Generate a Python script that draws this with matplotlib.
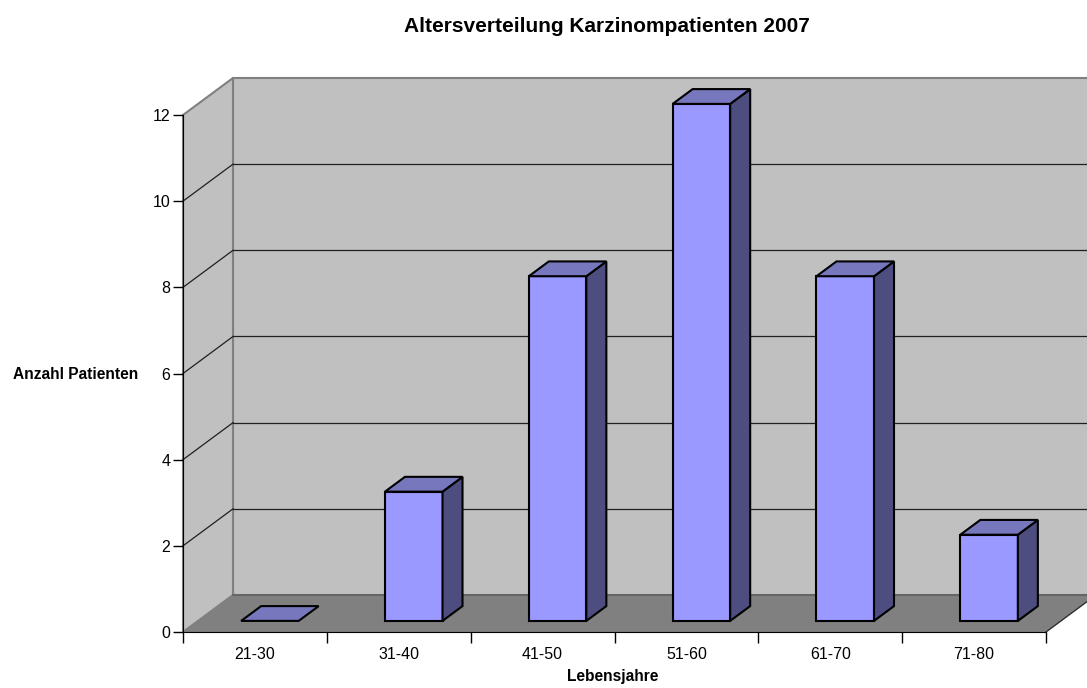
import matplotlib
matplotlib.use("Agg")
import matplotlib.pyplot as plt
from matplotlib.patches import Polygon

plt.rcParams['font.family'] = ['Liberation Sans', 'DejaVu Sans']

# age groups and patient counts
age_groups = ['21-30', '31-40', '41-50', '51-60', '61-70', '71-80']
patients = [0, 3, 8, 12, 8, 2]
y_ticks = [0, 2, 4, 6, 8, 10, 12]

W, H = 1087, 688
fig = plt.figure(figsize=(W / 100, H / 100), dpi=100)
ax = fig.add_axes([183 / W, (H - 632) / H, (1046 - 183) / W, (632 - 115) / H])

n = len(age_groups)
ymax = 12
ax.set_xlim(0, n)
ax.set_ylim(0, ymax)

# oblique depth offset of the 3d box, in data units
DX, DY = 0.3476, 0.859
wall = '#c0c0c0'
floor = '#808080'
border = '#808080'


def poly(pts, fc, ec, lw=1.0, z=1):
    ax.add_patch(Polygon(pts, closed=True, facecolor=fc, edgecolor=ec,
                         linewidth=lw, zorder=z, clip_on=False))


# back wall, side wall and floor
poly([(DX, DY), (n + DX, DY), (n + DX, ymax + DY), (DX, ymax + DY)], wall, border, 1.5, 1)
poly([(0, 0), (DX, DY), (DX, ymax + DY), (0, ymax)], wall, border, 1.5, 1)

# gridlines on back wall and side wall
for v in y_ticks[1:-1]:
    ax.plot([DX, n + DX], [v + DY, v + DY], color='#202020', lw=0.9, zorder=2, clip_on=False)
    ax.plot([0, DX], [v, v + DY], color='#202020', lw=0.9, zorder=2, clip_on=False)

poly([(0, 0), (n, 0), (n + DX, DY), (DX, DY)], floor, 'none', 0, 3)
ax.plot([DX, n + DX], [DY, DY], color='#606060', lw=1.2, zorder=3, clip_on=False)
ax.plot([n, n + DX], [0, DY], color='#303030', lw=1.0, zorder=3, clip_on=False)

# bars as boxes
f0, f1 = 0.3, 0.7
bw = 0.4
front_c, top_c, side_c = '#9999ff', '#7777bd', '#4d4d80'
for i, v in enumerate(patients):
    x0 = i + 0.3 + f0 * DX
    x1 = x0 + bw
    yb = f0 * DY
    ddx, ddy = (f1 - f0) * DX, (f1 - f0) * DY
    if v > 0:
        poly([(x0, yb), (x1, yb), (x1, v + yb), (x0, v + yb)], front_c, 'black', 1.5, 5)
        poly([(x1, yb), (x1 + ddx, yb + ddy), (x1 + ddx, v + yb + ddy), (x1, v + yb)],
             side_c, 'black', 1.5, 5)
    poly([(x0, v + yb), (x1, v + yb), (x1 + ddx, v + yb + ddy), (x0 + ddx, v + yb + ddy)],
         top_c, 'black', 1.5, 5)

# axes styling
for s in ['top', 'right']:
    ax.spines[s].set_visible(False)
ax.spines['left'].set_zorder(6)
ax.spines['bottom'].set_zorder(6)
ax.patch.set_visible(False)

ax.set_yticks(y_ticks)
ax.tick_params(axis='y', direction='out', length=7, width=1, labelsize=11.5, pad=2)
ax.set_xticks(range(n + 1))
ax.set_xticklabels([])
ax.set_xticks([i + 0.5 for i in range(n)], minor=True)
ax.set_xticklabels(age_groups, minor=True)
ax.tick_params(axis='x', which='major', direction='out', length=8, width=1)
ax.tick_params(axis='x', which='minor', length=0, labelsize=11.5, pad=11)

ax.set_xlabel('Lebensjahre', fontsize=11.2, fontweight='bold', va='center')
ax.xaxis.set_label_coords(0.498, -0.087)
ax.set_ylabel('Anzahl Patienten', fontsize=11.2, fontweight='bold', rotation=0,
              ha='right', va='center')
ax.yaxis.set_label_coords(-0.052, 0.499)

fig.text(607 / W, 1 - 27 / H, 'Altersverteilung Karzinompatienten 2007',
         ha='center', va='center', fontsize=15, fontweight='bold')

fig.savefig('out.png', dpi=100)
